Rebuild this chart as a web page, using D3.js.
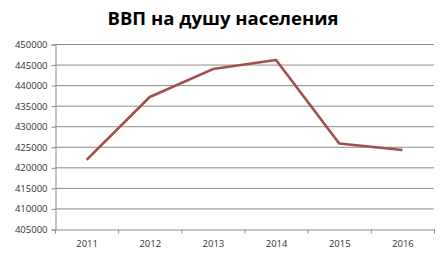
<!DOCTYPE html>
<html>
<head>
<meta charset="utf-8">
<script src="https://cdn.jsdelivr.net/npm/d3@7"></script>
<style>
  body { margin: 0; background: #fff; }
  svg text { font-family: "Open Sans", "DejaVu Sans", sans-serif; }
</style>
</head>
<body>
<svg id="chart"></svg>
<script>
// GDP per capita, 2011-2016
const years = ["2011", "2012", "2013", "2014", "2015", "2016"];
const gdp = [421800, 437100, 443900, 446100, 425800, 424200];
const yTicks = [405000, 410000, 415000, 420000, 425000, 430000, 435000, 440000, 445000, 450000];
const title = "ВВП на душу населения";

const W = 444, H = 260;
const margin = { top: 44, right: 10, bottom: 31, left: 55 },
    width = W - margin.left - margin.right,
    height = H - margin.top - margin.bottom;

const svg = d3.select("#chart")
    .attr("width", W)
    .attr("height", H);

svg.append("text")
    .attr("x", 223)
    .attr("y", 25)
    .attr("text-anchor", "middle")
    .style("font-size", "18.5px")
    .style("font-weight", "bold")
    .attr("fill", "#000")
    .text(title);

const g = svg.append("g")
    .attr("transform", `translate(${margin.left},${margin.top})`);

const x = d3.scaleBand()
    .domain(years)
    .range([0, width]);

const y = d3.scaleLinear()
    .domain([405000, 450000])
    .range([height, 0]);

// gridlines
g.selectAll(".grid")
    .data(yTicks.slice(1))
    .enter()
    .append("line")
    .attr("x1", 0)
    .attr("x2", width)
    .attr("y1", d => y(d) + 0.5)
    .attr("y2", d => y(d) + 0.5)
    .attr("stroke", "#8c8c8c")
    .attr("stroke-width", 1);

// y axis
const yAxis = g.append("g")
    .attr("transform", "translate(0.5,0.5)")
    .call(d3.axisLeft(y).tickValues(yTicks).tickSize(4).tickPadding(4).tickFormat(d3.format("d")));
yAxis.select(".domain").attr("stroke", "#8c8c8c");
yAxis.selectAll("line").attr("stroke", "#8c8c8c");
yAxis.selectAll("text").style("font-size", "9.5px").attr("fill", "#333");

// x axis
const xAxis = g.append("g")
    .attr("transform", `translate(0.5,${height + 0.5})`)
    .call(d3.axisBottom(x).tickSize(0).tickPadding(11));
xAxis.select(".domain").attr("stroke", "#8c8c8c");
xAxis.selectAll("text").style("font-size", "9.5px").attr("fill", "#333");

// category tick marks between bands
xAxis.selectAll(".band-tick")
    .data(years.concat(["end"]))
    .enter()
    .append("line")
    .attr("x1", (d, i) => i * x.step())
    .attr("x2", (d, i) => i * x.step())
    .attr("y1", 0)
    .attr("y2", 4)
    .attr("stroke", "#8c8c8c");

const line = d3.line()
    .x((d, i) => x(years[i]) + x.bandwidth() / 2)
    .y(d => y(d));

g.append("path")
    .datum(gdp)
    .attr("d", line)
    .attr("fill", "none")
    .attr("stroke", "#a04f4d")
    .attr("stroke-width", 2.6)
    .attr("stroke-linejoin", "round");
</script>
</body>
</html>
